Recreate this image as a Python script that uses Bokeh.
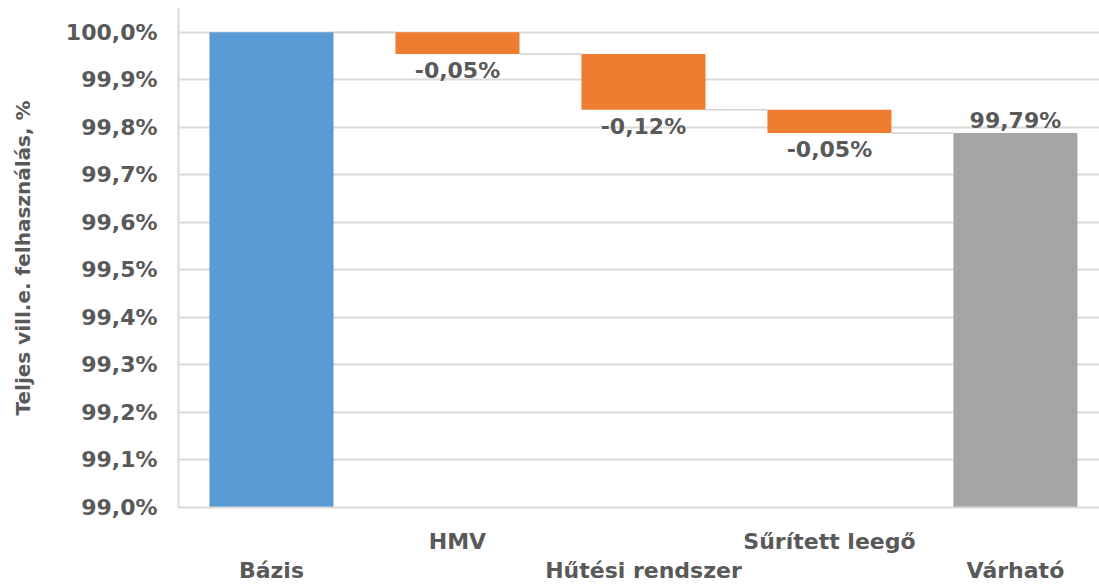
from bokeh.plotting import figure
from bokeh.models import ColumnDataSource, Range1d, FixedTicker, LinearAxis, CustomJSTickFormatter
from bokeh.core.properties import value
from bokeh.embed import file_html
from bokeh.resources import INLINE

# ---- data ----
categories = ["Bázis", "HMV", "Hűtési rendszer", "Sűrített leegő", "Várható"]
base_value = 100.0
changes = [-0.046, -0.117, -0.049]
y_ticks = [99.0, 99.1, 99.2, 99.3, 99.4, 99.5, 99.6, 99.7, 99.8, 99.9, 100.0]
y_axis_title = "Teljes vill.e. felhasználás, %"

# ---- styles ----
FONT = "DejaVu Sans"
TEXT = "#595959"
GRID = "#D9D9D9"
bar_colors = ["#5B9BD5", "#ED7D31", "#ED7D31", "#ED7D31", "#A5A5A5"]
BAR_W = 0.667

axis_floor = y_ticks[0]
levels = [base_value]
for c in changes:
    levels.append(levels[-1] + c)
final_value = levels[-1]

xs = list(range(len(categories)))
tops = [base_value] + levels[:-1] + [final_value]
bottoms = [axis_floor] + levels[1:] + [axis_floor]

def fmt(v):
    return f"{v:.2f}".replace(".", ",") + "%"

p = figure(width=1099, height=585,
           x_range=Range1d(-0.5, 4.452), y_range=Range1d(99.0, 100.05),
           output_backend="svg", toolbar_location=None, x_axis_location=None,
           min_border_left=178, min_border_right=0, min_border_top=8, min_border_bottom=0)
p.outline_line_color = None
p.background_fill_color = "white"
p.border_fill_color = "white"

p.xgrid.grid_line_color = None
p.ygrid.grid_line_color = GRID
p.ygrid.grid_line_width = 2
p.ygrid.ticker = FixedTicker(ticks=y_ticks)

ya = p.yaxis[0]
ya.ticker = FixedTicker(ticks=y_ticks)
ya.formatter = CustomJSTickFormatter(code="return tick.toFixed(1).replace('.', ',') + '%';")
ya.major_label_text_font = FONT
ya.major_label_text_font_style = "bold"
ya.major_label_text_font_size = "22px"
ya.major_label_text_color = TEXT
ya.major_tick_line_color = None
ya.minor_tick_line_color = None
ya.axis_line_color = GRID
ya.axis_line_width = 2
ya.major_label_standoff = 15
ya.axis_label = y_axis_title
ya.axis_label_text_font = FONT
ya.axis_label_text_font_style = "bold"
ya.axis_label_text_font_size = "20px"
ya.axis_label_text_color = TEXT
ya.axis_label_standoff = 28

def cat_axis(parity, standoff, line):
    ax = LinearAxis(
        ticker=FixedTicker(ticks=xs),
        formatter=CustomJSTickFormatter(
            args=dict(labels=categories, parity=parity),
            code="const i = Math.round(tick); return (i % 2 == parity) ? labels[i] : '';"),
    )
    ax.major_label_text_font = FONT
    ax.major_label_text_font_style = "bold"
    ax.major_label_text_font_size = "22px"
    ax.major_label_text_color = TEXT
    ax.major_tick_line_color = None
    ax.minor_tick_line_color = None
    ax.major_label_standoff = standoff
    if line:
        ax.axis_line_color = GRID
        ax.axis_line_width = 2
    else:
        ax.axis_line_color = None
    return ax

p.add_layout(cat_axis(1, 15, True), "below")
p.add_layout(cat_axis(0, -5, False), "below")

src = ColumnDataSource(dict(x=xs, top=tops, bottom=bottoms, color=bar_colors))
p.vbar(x="x", width=BAR_W, top="top", bottom="bottom", fill_color="color",
       line_color=None, source=src)

# connectors
cx0 = [i + BAR_W / 2 for i in range(len(categories) - 1)]
cx1 = [i + 1 - BAR_W / 2 for i in range(len(categories) - 1)]
cy = levels[:]
p.segment(x0=cx0, y0=cy, x1=cx1, y1=cy, line_color="#D0D0D0", line_width=1.5)

# labels below negative bars
neg_src = ColumnDataSource(dict(x=xs[1:-1], y=levels[1:], t=[fmt(c) for c in changes]))
p.text(x="x", y="y", text="t", source=neg_src, text_align="center", text_baseline="top",
       y_offset=4, text_font=value(FONT), text_font_style="bold",
       text_font_size="22px", text_color=TEXT)
fin_src = ColumnDataSource(dict(x=[xs[-1]], y=[final_value], t=[fmt(final_value)]))
p.text(x="x", y="y", text="t", source=fin_src, text_align="center", text_baseline="bottom",
       y_offset=0, text_font=value(FONT), text_font_style="bold",
       text_font_size="22px", text_color=TEXT)

open("out.html", "w").write(file_html(p, INLINE))
